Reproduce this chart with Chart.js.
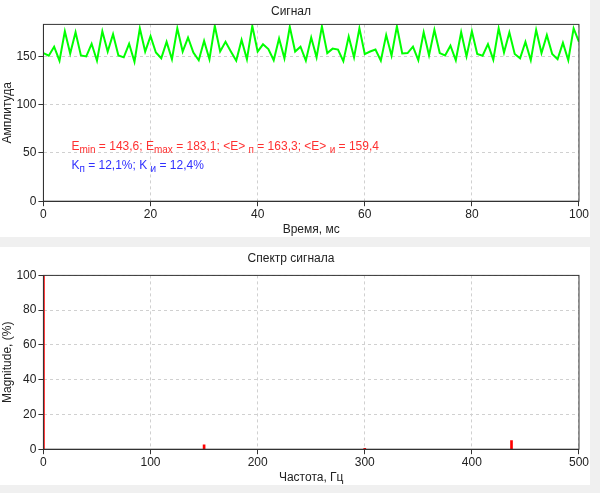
<!DOCTYPE html>
<html lang="ru">
<head>
<meta charset="UTF-8">
<title>Сигнал</title>
<script src="https://cdn.jsdelivr.net/npm/chart.js@4/dist/chart.umd.min.js"></script>
<style>
  html, body { margin: 0; padding: 0; background: #f0f0f0; }
  .box { position: absolute; left: 0; width: 590px; background: #fff; }
  #top { top: 0; height: 237px; }
  #bot { top: 247px; height: 238px; }
</style>
</head>
<body>
<div class="box" id="top"><canvas id="signalChart"></canvas></div>
<div class="box" id="bot"><canvas id="spectrumChart"></canvas></div>
<script>
const signalValues = [
  153.4, 150.7, 160, 145.5, 176, 153, 175, 151, 150, 163,
  145.5, 176, 155, 173, 151, 149, 163, 144.5, 179, 155,
  171, 154, 148, 165, 147, 179, 155, 169.5, 154, 146,
  166, 147, 181.5, 155, 165, 155, 145.5, 167, 147, 181.5,
  155, 162.5, 157.5, 146, 168.5, 148, 180.5, 155, 160, 145.5,
  169.5, 149, 181, 153.4, 158, 157, 145, 170.5, 149, 179,
  152.4, 155, 157, 145.5, 172, 150.7, 181, 153, 153.4, 160,
  146, 175, 151, 177.4, 153.4, 151, 161, 146, 175, 150,
  176, 152.4, 150.7, 162.7, 146.6, 179, 154, 174.7, 152.4, 148,
  165, 146, 177.4, 153.4, 172, 152.4, 147, 164, 146, 179,
  165
];
const signalTimes = signalValues.map((v, i) => i);
const spectrumFreqs = [0, 150, 300, 437];
const spectrumMags = [100, 2.5, 0.5, 5];

Chart.defaults.font.family = '"Liberation Sans", Arial, sans-serif';
Chart.defaults.font.size = 12;
Chart.defaults.color = '#222';

const frame = {
  id: 'frame',
  afterDraw(chart) {
    const { ctx, chartArea: a } = chart;
    ctx.save();
    ctx.strokeStyle = '#333';
    ctx.lineWidth = 1;
    ctx.strokeRect(a.left, a.top, a.right - a.left, a.bottom - a.top);
    ctx.restore();
  }
};

const notes = {
  id: 'notes',
  afterDatasetsDraw(chart) {
    const ctx = chart.ctx;
    const x0 = chart.chartArea.left + 28;
    const parts1 = [['E', ''], ['min', 's'], [' = 143,6; E', ''], ['max', 's'], [' = 183,1; <E> ', ''], ['п', 's'], [' = 163,3; <E> ', ''], ['и', 's'], [' = 159,4', '']];
    const parts2 = [['K', ''], ['п', 's'], [' = 12,1%; K ', ''], ['и', 's'], [' = 12,4%', '']];
    const draw = (parts, y, color) => {
      let x = x0;
      ctx.fillStyle = color;
      ctx.textBaseline = 'alphabetic';
      ctx.textAlign = 'left';
      for (const [t, s] of parts) {
        ctx.font = (s ? '10px' : '12px') + ' "Liberation Sans", Arial, sans-serif';
        ctx.fillText(t, x, y + (s ? 3 : 0));
        x += ctx.measureText(t).width;
      }
    };
    ctx.save();
    draw(parts1, 150, '#ff3030');
    draw(parts2, 169, '#3030ff');
    ctx.restore();
  }
};

const grid = { color: '#d0d0d0', offset: false, tickLength: 5, tickColor: '#333', drawTicks: true };
const border = { display: true, color: '#333', dash: [3, 3] };

new Chart(document.getElementById('signalChart'), {
  type: 'line',
  data: {
    labels: signalTimes,
    datasets: [{ data: signalValues, borderColor: '#00ff00', borderWidth: 2, pointRadius: 0, tension: 0 }]
  },
  options: {
    responsive: true, maintainAspectRatio: false, animation: false,
    layout: { padding: { right: 8, top: 0 } },
    plugins: {
      legend: { display: false }, tooltip: { enabled: false },
      title: { display: true, text: 'Сигнал', padding: { top: 4, bottom: 6 }, font: { weight: 'normal', size: 12 } }
    },
    scales: {
      x: { type: 'linear', min: 0, max: 100, ticks: { stepSize: 20, padding: 1 }, grid, border,
           title: { display: true, text: 'Время, мс', padding: 0 } },
      y: { min: 0, max: 183.1, ticks: { stepSize: 50, padding: 2 }, grid, border,
           afterBuildTicks(s) { s.ticks = [0, 50, 100, 150].map(v => ({ value: v })); },
           title: { display: true, text: 'Амплитуда', padding: 0 } }
    }
  },
  plugins: [frame, notes]
});

new Chart(document.getElementById('spectrumChart'), {
  type: 'bar',
  data: {
    datasets: [{ data: spectrumFreqs.map((f, i) => ({ x: f, y: spectrumMags[i] })), backgroundColor: '#ff0000', barThickness: 2 }]
  },
  options: {
    responsive: true, maintainAspectRatio: false, animation: false,
    layout: { padding: { right: 8 } },
    plugins: {
      legend: { display: false }, tooltip: { enabled: false },
      title: { display: true, text: 'Спектр сигнала', padding: { top: 4, bottom: 10 }, font: { weight: 'normal', size: 12 } }
    },
    scales: {
      x: { type: 'linear', min: 0, max: 500, offset: false, ticks: { stepSize: 100, padding: 1 }, grid, border,
           title: { display: true, text: 'Частота, Гц', padding: 0 } },
      y: { min: 0, max: 100, ticks: { stepSize: 20, padding: 2 }, grid, border,
           title: { display: true, text: 'Magnitude, (%)', padding: 0 } }
    }
  },
  plugins: [frame]
});
</script>
</body>
</html>
